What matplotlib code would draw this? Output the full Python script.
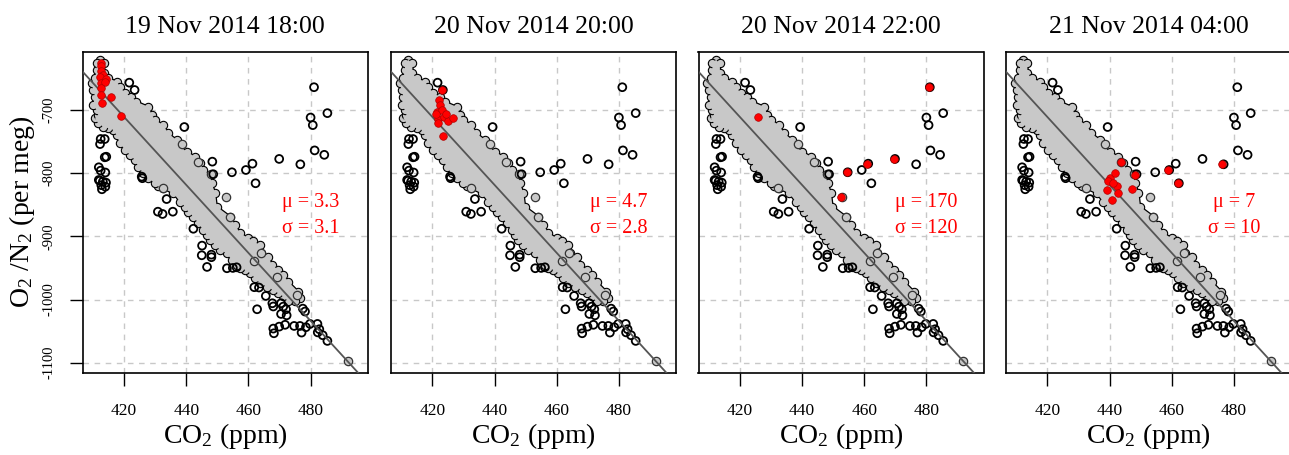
import numpy as np
import matplotlib.pyplot as plt
from matplotlib.patches import Polygon

plt.rcParams["font.family"] = ["Liberation Serif", "DejaVu Serif"]
plt.rcParams["mathtext.fontset"] = "custom"
plt.rcParams["mathtext.rm"] = "Liberation Serif"
plt.rcParams["mathtext.it"] = "Liberation Serif:italic"
plt.rcParams["mathtext.bf"] = "Liberation Serif:bold"

# --- data ---
titles = ["19 Nov 2014 18:00", "20 Nov 2014 20:00", "20 Nov 2014 22:00", "21 Nov 2014 04:00"]
mu_labels = ["3.3", "4.7", "170", "7"]
sigma_labels = ["3.1", "2.8", "120", "10"]

# background open circles (same in every panel): CO2 ppm, O2/N2 per meg
bg_co2 = [421.7, 423.4, 481.1, 485.4, 480.0, 480.7, 439.4, 481.3, 484.4, 469.9,
          476.7, 461.3, 459.2, 454.7, 448.4, 448.7, 462.3, 433.7, 430.9, 432.4,
          435.7, 442.3, 445.1, 445.0, 448.1, 448.1, 446.7, 453.1, 455.0, 456.2,
          461.9, 463.4, 462.8, 465.6, 467.7, 468.0, 470.5, 471.2, 472.1, 470.5,
          472.3, 477.5, 478.2, 468.0, 468.2, 469.9, 471.8, 474.7, 476.6, 477.1,
          478.5, 479.8, 482.2, 482.8, 482.3, 483.9, 485.4,
          412.5, 413.8, 412.3, 413.8, 414.3, 411.9, 412.5, 414.0, 411.9, 413.2,
          414.2, 412.7, 414.0, 412.9, 412.2, 425.7, 425.9]
bg_o2 = [-656.8, -668.4, -664.0, -705.0, -712.0, -724.0, -727.0, -764.0, -771.0, -777.5,
         -786.0, -785.0, -795.0, -798.6, -781.8, -801.7, -816.0, -841.0, -861.0, -864.6,
         -861.0, -888.0, -914.7, -930.0, -929.0, -933.0, -948.4, -950.5, -950.0, -949.0,
         -980.5, -981.0, -1015.4, -994.3, -1005.9, -1011.0, -1005.9, -1011.2, -1015.4, -1022.8,
         -1025.0, -1014.4, -1019.0, -1046.0, -1053.4, -1042.9, -1040.0, -1041.8, -1041.8, -1052.3,
         -1043.8, -1038.6, -1038.6, -1047.0, -1052.0, -1056.5, -1065.5,
         -745.9, -746.0, -754.0, -774.9, -774.0, -790.7, -796.0, -799.0, -810.8, -813.4,
         -815.0, -819.0, -821.4, -825.5, -812.0, -805.5, -808.0]

# outline of the dense grey cloud (clockwise from the top)
blob_co2 = [412.3, 413.6, 413.6, 415.0, 417.6, 418.7, 420.3, 422.4, 424.0, 427.8,
            428.9, 430.0, 432.6, 434.2, 436.9, 438.0, 440.1, 442.8, 444.4, 445.5,
            447.6, 448.2, 449.3, 449.8, 454.1, 455.7, 457.3, 460.0, 461.6, 463.7,
            464.2, 466.4, 467.5, 469.6, 471.2, 472.8, 476.0, 476.6, 475.0,
            472.8, 471.2, 469.6, 468.0, 465.9, 463.7, 462.1, 460.5, 458.9, 457.3,
            456.2, 454.6, 453.0, 450.9, 449.3, 447.7, 446.6, 445.5, 443.9, 442.3,
            440.7, 439.6, 438.0, 435.9, 432.6, 431.0, 430.0, 427.8, 426.2, 424.6,
            423.5, 421.9, 420.3, 418.7, 417.6, 416.6, 415.0, 413.3, 411.7, 410.7,
            411.7, 411.2, 410.1, 410.7, 410.1, 409.6, 410.7, 411.2, 411.2]
blob_o2 = [-620.9, -626.0, -642.0, -650.0, -655.0, -663.0, -673.6, -679.0, -687.0, -695.0,
           -708.0, -716.0, -724.0, -737.0, -747.5, -758.0, -766.0, -774.0, -784.0, -795.0,
           -803.0, -816.0, -832.0, -853.0, -868.8, -882.0, -895.0, -903.0, -908.0, -913.6,
           -926.7, -932.0, -945.0, -953.0, -961.0, -971.7, -987.5, -998.0, -1003.0,
           -1003.0, -995.0, -990.0, -985.0, -979.6, -974.0, -966.0, -958.0, -953.0, -950.5,
           -945.0, -937.0, -926.7, -921.5, -913.6, -905.7, -897.8, -890.0, -879.0, -868.8,
           -861.0, -853.0, -845.0, -831.8, -824.0, -821.0, -816.0, -808.0, -800.0, -789.7,
           -779.0, -771.0, -763.0, -752.7, -739.6, -731.6, -729.0, -726.4, -721.0, -713.0,
           -708.0, -700.0, -692.0, -679.0, -668.0, -658.0, -650.0, -636.7, -626.0]

# single grey points sticking out of the cloud
grey_co2 = [452.9, 438.6, 443.7, 447.9, 432.4, 454.1, 475.5, 464.0, 469.1, 461.8, 491.9]
grey_o2 = [-837.0, -753.8, -781.8, -801.7, -824.0, -868.8, -992.7, -926.7, -963.8, -939.0, -1098.0]

# highlighted (red) points per panel
red_co2 = [
    [412.6, 412.6, 412.7, 413.3, 412.3, 414.2, 412.5, 414.0, 412.7, 412.5, 415.8, 412.8, 419.1],
    [423.1, 422.0, 422.4, 421.4, 423.0, 421.9, 423.8, 425.1, 426.8, 421.7, 423.3, 421.3, 424.4],
    [480.9, 425.8, 454.5, 460.9, 469.7, 452.5],
    [443.7, 448.2, 447.1, 440.2, 441.8, 439.1, 440.7, 442.3, 442.8, 439.6, 441.2, 458.9, 462.1, 476.3],
]
red_o2 = [
    [-625.0, -631.0, -637.6, -644.6, -648.0, -651.4, -657.8, -655.0, -665.7, -676.0, -679.0, -689.4, -709.5],
    [-668.4, -684.0, -692.0, -702.7, -700.0, -714.8, -710.6, -717.0, -712.0, -721.0, -741.0, -707.0, -707.0],
    [-664.0, -710.6, -798.0, -785.0, -777.0, -837.0],
    [-783.0, -803.0, -825.5, -808.0, -800.0, -826.6, -842.0, -821.0, -831.0, -813.0, -816.0, -795.0, -816.0, -786.0],
]

# regression line
fit_point = (406.7, -639.4)
fit_slope = -5.38

x_ticks = [420, 440, 460, 480]
y_ticks = [-700, -800, -900, -1000, -1100]

# --- figure ---
W, H = 1289, 455
fig = plt.figure(figsize=(W / 100, H / 100), dpi=100)
lefts = [82.7, 391.0, 698.5, 1006.0]
ax_w, ax_top, ax_bot = 285.0, 51.7, 372.7

for i, left in enumerate(lefts):
    ax = fig.add_axes([left / W, (H - ax_bot) / H, ax_w / W, (ax_bot - ax_top) / H])
    ax.set_xlim(406.72, 498.36)
    ax.set_ylim(-1115.8, -607.8)

    for v in x_ticks:
        ax.axvline(v, color="#c8c8c8", lw=1.0, ls=(0, (4, 4)), zorder=0)
    for v in y_ticks:
        ax.axhline(v, color="#c8c8c8", lw=1.0, ls=(0, (4, 4)), zorder=0)

    # grey cloud: outline, bumps, then fill
    ax.add_patch(Polygon(np.column_stack([blob_co2, blob_o2]), closed=True,
                         facecolor="#c8c8c8", edgecolor="black", lw=1.8, zorder=2))
    ax.scatter(blob_co2, blob_o2, s=36, facecolor="#c8c8c8", edgecolor="black",
               lw=0.8, zorder=2.1)
    ax.add_patch(Polygon(np.column_stack([blob_co2, blob_o2]), closed=True,
                         facecolor="#c8c8c8", edgecolor="none", zorder=2.2))
    ax.scatter(grey_co2, grey_o2, s=36, facecolor="#c8c8c8", edgecolor="#333333",
               lw=0.9, zorder=2.3)

    ax.scatter(bg_co2, bg_o2, s=32, facecolor="none", edgecolor="black",
               lw=1.3, zorder=3)
    ax.axline(fit_point, slope=fit_slope, color="#555555", lw=1.3, zorder=4)
    ax.scatter(red_co2[i], red_o2[i], s=30, facecolor="#ff0000", edgecolor="#b00000",
               lw=0.5, zorder=5)

    ax.text(480, -847, "\u03bc = " + mu_labels[i], color="#ff0000", fontsize=14.5,
            ha="center", va="center")
    ax.text(480, -887, "\u03c3 = " + sigma_labels[i], color="#ff0000", fontsize=14.5,
            ha="center", va="center")

    ax.set_xticks(x_ticks)
    ax.tick_params(axis="x", direction="out", length=9.5, width=1.0, pad=12,
                   labelsize=12.5)
    if i == 0:
        ax.set_yticks(y_ticks)
        ax.set_yticklabels([str(v) for v in y_ticks], rotation=90, va="center")
        ax.tick_params(axis="y", direction="out", length=9.5, width=1.0, pad=10,
                       labelsize=10.5)
    else:
        ax.set_yticks([])
    for s in ax.spines.values():
        s.set_linewidth(1.2)

    ax.text(0.5, 1 + (ax_top - 27) / (ax_bot - ax_top), titles[i], transform=ax.transAxes,
            ha="center", va="center", fontsize=18.5)
    ax.text(0.5, -(436 - ax_bot) / (ax_bot - ax_top), r"CO$_2$ (ppm)", transform=ax.transAxes,
            ha="center", va="center", fontsize=20)

fig.text(22 / W, 1 - 212 / H, r"O$_2$ /N$_2$ (per meg)", rotation=90,
         ha="center", va="center", fontsize=20)

fig.savefig("out.png", dpi=100)
